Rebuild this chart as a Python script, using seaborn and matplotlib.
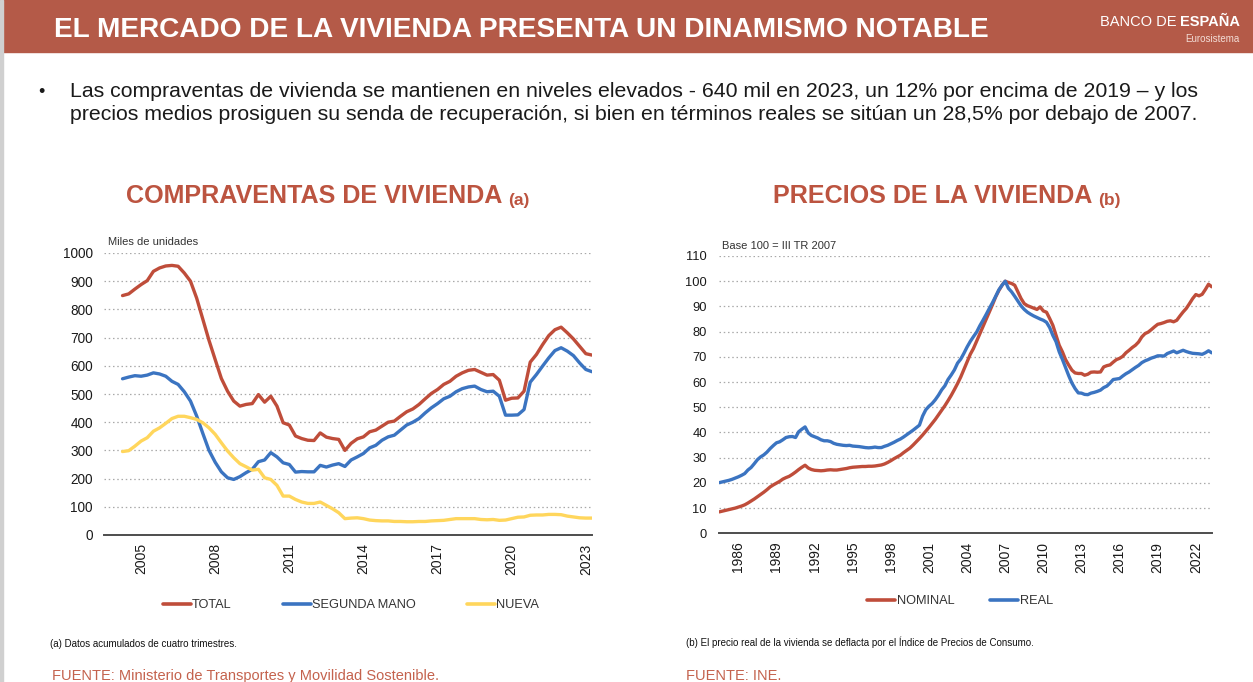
import numpy as np
import pandas as pd
import seaborn as sns
import matplotlib.pyplot as plt
from matplotlib.patches import Rectangle
from matplotlib.lines import Line2D

# ---------------- data ----------------
# Compraventas de vivienda (miles), acumulado 4 trimestres, 2004T4 - 2023T4
sales_start = '2004Q4'
sales_total = [849,
               855, 872, 888, 902,
               935, 947, 954, 956,
               953, 929, 900, 840,
               765, 690, 622, 555,
               510, 475, 457, 463,
               466, 498, 471, 492,
               457, 398, 390, 351,
               342, 336, 335, 362,
               347, 342, 339, 300,
               325, 341, 348, 366,
               372, 386, 400, 404,
               421, 437, 447, 463,
               483, 502, 516, 534,
               545, 563, 575, 584,
               587, 577, 567, 569,
               549, 478, 485, 486,
               510, 613, 640, 675,
               707, 728, 737, 717,
               695, 669, 643, 638]
sales_second_hand = [554,
                     560, 565, 563, 567,
                     575, 571, 563, 545,
                     534, 508, 475, 422,
                     360, 300, 258, 224,
                     203, 197, 207, 221,
                     233, 260, 266, 292,
                     277, 256, 250, 223,
                     225, 224, 224, 247,
                     241, 248, 253, 243,
                     266, 277, 289, 309,
                     318, 336, 348, 354,
                     372, 390, 400, 413,
                     433, 451, 466, 483,
                     492, 508, 519, 525,
                     528, 516, 508, 510,
                     492, 425, 425, 426,
                     445, 542, 569, 599,
                     628, 654, 664, 652,
                     636, 610, 587, 579]
sales_new = [296,
             299, 315, 333, 345,
             368, 380, 396, 413,
             421, 421, 416, 410,
             398, 380, 357, 327,
             298, 274, 253, 242,
             230, 233, 203, 197,
             176, 138, 138, 126,
             117, 112, 112, 117,
             105, 93, 79, 58,
             60, 61, 58, 53,
             51, 50, 50, 48,
             48, 47, 47, 48,
             48, 50, 51, 52,
             55, 58, 58, 58,
             58, 55, 54, 55,
             52, 53, 58, 63,
             64, 70, 71, 71,
             73, 73, 72, 67,
             64, 61, 60, 60]
sales_labels = ['TOTAL', 'SEGUNDA MANO', 'NUEVA']
sales_tick_years = [2005, 2008, 2011, 2014, 2017, 2020, 2023]

# Precios de la vivienda, base 100 = III TR 2007, 1985T1 - 2023T4
price_start = '1985Q1'
price_nominal = [8.5, 8.8, 9.1, 9.4,
                 9.7, 10.0, 10.4, 10.8,
                 11.3, 12.0, 12.8, 13.6,
                 14.5, 15.4, 16.3, 17.3,
                 18.4, 19.2, 19.9, 20.6,
                 21.5, 22.1, 22.6, 23.4,
                 24.3, 25.3, 26.2, 27.0,
                 25.9, 25.3, 25.0, 24.9,
                 24.8, 24.9, 25.1, 25.2,
                 25.1, 25.1, 25.3, 25.5,
                 25.7, 26.0, 26.2, 26.3,
                 26.4, 26.5, 26.5, 26.6,
                 26.6, 26.7, 26.9, 27.1,
                 27.5, 28.1, 28.8, 29.6,
                 30.3, 31.0, 32.0, 32.9,
                 33.8, 35.0, 36.3, 37.6,
                 39.0, 40.5, 42.0, 43.6,
                 45.2, 47.0, 48.8, 50.6,
                 52.6, 54.7, 57.0, 59.4,
                 62.0, 65.0, 68.0, 71.0,
                 73.3, 76.2, 79.2, 81.9,
                 84.8, 87.8, 90.7, 93.8,
                 96.3, 98.4, 100.0, 99.5,
                 99.1, 98.4, 95.8, 93.1,
                 91.1, 90.3, 89.8, 89.3,
                 88.8, 89.8, 88.2, 87.7,
                 85.2, 82.5, 78.6, 74.6,
                 72.0, 68.9, 66.7, 64.7,
                 63.6, 63.4, 63.4, 62.7,
                 63.1, 63.9, 64.0, 63.9,
                 64.0, 66.0, 66.5, 66.8,
                 67.9, 68.9, 69.4, 70.2,
                 71.6, 72.6, 73.7, 74.6,
                 75.9, 77.9, 79.2, 79.8,
                 80.8, 81.9, 82.9, 83.2,
                 83.6, 84.1, 84.3, 83.9,
                 84.5, 86.2, 87.8, 89.2,
                 91.1, 93.1, 94.7, 94.2,
                 94.8, 96.7, 98.8, 97.8]
price_real = [20.1, 20.4, 20.7, 21.0,
              21.4, 21.9, 22.4, 23.0,
              23.7, 25.1, 26.1, 27.6,
              29.2, 30.3, 31.1, 32.2,
              33.6, 34.8, 35.9, 36.3,
              37.1, 38.0, 38.3, 38.4,
              38.0, 40.3, 41.3, 42.2,
              39.8, 38.8, 38.3, 37.8,
              37.1, 36.7, 36.7, 36.4,
              35.7, 35.3, 35.1, 34.9,
              34.8, 34.9, 34.6, 34.5,
              34.4, 34.2, 34.0, 33.9,
              34.0, 34.2, 34.0, 34.0,
              34.5, 34.9, 35.5, 36.1,
              36.8, 37.4, 38.2, 39.1,
              40.0, 40.9, 41.9, 42.9,
              46.5, 49.0, 50.4, 51.5,
              53.0, 54.8, 56.9, 58.5,
              61.0, 62.8, 64.8, 67.5,
              69.1, 71.4, 73.9, 76.1,
              78.0, 79.8, 82.3, 84.5,
              86.8, 89.2, 91.5, 94.0,
              96.6, 98.4, 100.0, 97.2,
              95.8, 94.0, 92.1, 90.2,
              88.8, 87.7, 86.9, 86.2,
              85.6, 85.0, 84.5, 83.7,
              81.6, 78.5, 76.0, 72.0,
              69.0, 65.8, 62.5, 59.6,
              57.4, 55.7, 55.6, 55.1,
              55.0, 55.6, 55.9, 56.3,
              56.8, 57.8, 58.4, 59.6,
              61.0, 61.2, 61.4, 62.4,
              63.3, 64.0, 64.9, 65.8,
              66.6, 67.7, 68.4, 68.9,
              69.5, 69.9, 70.4, 70.4,
              70.3, 71.3, 71.8, 72.3,
              71.6, 72.1, 72.6, 72.1,
              71.7, 71.4, 71.3, 71.2,
              71.0, 71.6, 72.4, 71.6]
price_labels = ['NOMINAL', 'REAL']
price_tick_years = [1986, 1989, 1992, 1995, 1998, 2001, 2004, 2007,
                    2010, 2013, 2016, 2019, 2022]

# ---------------- style ----------------
RED = '#BF4D3A'
BLUE = '#3B74C1'
YELLOW = '#FFD65C'
BANNER = '#B45A48'
TITLE_RED = '#BC5440'
W, H = 1253, 682

sns.set_style('white')
plt.rcParams['font.family'] = ['Liberation Sans', 'DejaVu Sans']


def quarter_axis(start, n):
    p = pd.period_range(start, periods=n, freq='Q')
    return np.asarray(p.year + (p.quarter - 1) / 4.0)


def fx(x):
    return x / W


def fy(y):
    return 1 - y / H


fig = plt.figure(figsize=(W / 100, H / 100), dpi=100)

# header banner + page edge
fig.patches.append(Rectangle((0, fy(52)), 1, 52 / H, transform=fig.transFigure,
                             color=BANNER, zorder=0))
fig.patches.append(Rectangle((0, 0), 2.5 / W, 1, transform=fig.transFigure,
                             color='#d0d0d0', zorder=1))
fig.text(fx(54), fy(37), 'EL MERCADO DE LA VIVIENDA PRESENTA UN DINAMISMO NOTABLE',
         color='white', fontsize=20.2, fontweight='bold', va='baseline')
fig.text(fx(1240), fy(26), 'ESPAÑA', color='white', fontsize=10.5,
         fontweight='bold', ha='right', va='baseline')
fig.text(fx(1177), fy(26), 'BANCO DE', color='white', fontsize=10.5,
         ha='right', va='baseline')
fig.text(fx(1240), fy(42), 'Eurosistema', color='#f3ddd6', fontsize=7,
         ha='right', va='baseline')

# bullet text
fig.text(fx(38), fy(97), '•', fontsize=13, color='#1a1a1a', va='baseline')
fig.text(fx(70), fy(97), 'Las compraventas de vivienda se mantienen en niveles elevados - '
         '640 mil en 2023, un 12% por encima de 2019 – y los',
         fontsize=15.3, color='#1a1a1a', va='baseline')
fig.text(fx(70), fy(120), 'precios medios prosiguen su senda de recuperación, si bien en '
         'términos reales se sitúan un 28,5% por debajo de 2007.',
         fontsize=15.3, color='#1a1a1a', va='baseline')

# axes
ax1 = fig.add_axes([fx(104), fy(535), (592 - 104) / W, (535 - 253) / H])
ax2 = fig.add_axes([fx(719.3), fy(533.3), (1211.7 - 719.3) / W, (533.3 - 256) / H])

x_sales = quarter_axis(sales_start, len(sales_total))
x_price = quarter_axis(price_start, len(price_nominal))

for vals, col, lab in zip([sales_total, sales_second_hand, sales_new],
                          [RED, BLUE, YELLOW], sales_labels):
    sns.lineplot(x=x_sales, y=vals, color=col, lw=2.4, ax=ax1, label=lab, legend=False)

for vals, col, lab in zip([price_nominal, price_real], [RED, BLUE], price_labels):
    sns.lineplot(x=x_price, y=vals, color=col, lw=2.4, ax=ax2, label=lab, legend=False)


def style_axes(ax, ymax, ystep, ypad, ysize):
    ax.set_ylim(0, ymax)
    ax.set_yticks(np.arange(0, ymax + 1, ystep))
    ax.yaxis.grid(True, ls=(0, (1.2, 2.2)), color='#a9a9a9', lw=0.9)
    ax.xaxis.grid(False)
    for s in ['left', 'right', 'top']:
        ax.spines[s].set_visible(False)
    ax.spines['bottom'].set_color('#4d4d4d')
    ax.spines['bottom'].set_linewidth(1.4)
    ax.xaxis.remove_overlapping_locs = False
    ax.tick_params(axis='y', length=0, labelsize=ysize, pad=ypad, labelcolor='#1a1a1a')
    ax.tick_params(axis='x', which='major', direction='in', length=4, width=1.1,
                   color='#4d4d4d', labelbottom=False)
    ax.tick_params(axis='x', which='minor', length=0, labelsize=10, pad=6,
                   labelcolor='#1a1a1a', labelrotation=90)
    ax.set_xlabel('')
    ax.set_ylabel('')


style_axes(ax1, 1000, 100, 8, 9.8)
ax1.set_xlim(2004, 2023.75)
ax1.set_xticks(np.arange(2004, 2024))
ax1.set_xticks([y + 0.5 for y in sales_tick_years], minor=True)
ax1.set_xticklabels([str(y) for y in sales_tick_years], minor=True)

style_axes(ax2, 110, 10, 9, 9.3)
ax2.set_xlim(1985, 2023.75)
ax2.set_xticks(np.arange(1985, 2023.6, 1.5))
ax2.set_xticks([y + 0.5 for y in price_tick_years], minor=True)
ax2.set_xticklabels([str(y) for y in price_tick_years], minor=True)

# chart titles
t1 = fig.text(fx(126), fy(203), 'COMPRAVENTAS DE VIVIENDA', color=TITLE_RED,
              fontsize=18.1, fontweight='bold', va='baseline')
ax1.annotate('(a)', xy=(1, 0), xycoords=t1, xytext=(4, 0), textcoords='offset points',
             color=TITLE_RED, fontsize=12.5, fontweight='bold', va='bottom',
             annotation_clip=False)
t2 = fig.text(fx(773), fy(203), 'PRECIOS DE LA VIVIENDA', color=TITLE_RED,
              fontsize=18.1, fontweight='bold', va='baseline')
ax2.annotate('(b)', xy=(1, 0), xycoords=t2, xytext=(4, 0), textcoords='offset points',
             color=TITLE_RED, fontsize=12.5, fontweight='bold', va='bottom',
             annotation_clip=False)

fig.text(fx(108), fy(245), 'Miles de unidades', fontsize=8, color='#333333', va='baseline')
fig.text(fx(722), fy(249), 'Base 100 = III TR 2007', fontsize=8, color='#333333',
         va='baseline')

# legends
h1 = [Line2D([], [], color=c, lw=2.6) for c in [RED, BLUE, YELLOW]]
fig.legend(h1, sales_labels, loc='center', bbox_to_anchor=(fx(351), fy(605)), ncol=3,
           frameon=False, fontsize=9.2, handlelength=2.2, handletextpad=0.1,
           columnspacing=4.0, labelcolor='#333333')
h2 = [Line2D([], [], color=c, lw=2.6) for c in [RED, BLUE]]
fig.legend(h2, price_labels, loc='center', bbox_to_anchor=(fx(960), fy(601)), ncol=2,
           frameon=False, fontsize=9.2, handlelength=2.2, handletextpad=0.1,
           columnspacing=2.8, labelcolor='#333333')

# notes and sources
fig.text(fx(50), fy(647), '(a) Datos acumulados de cuatro trimestres.', fontsize=7,
         color='#111111', va='baseline')
fig.text(fx(686), fy(646), '(b) El precio real de la vivienda se deflacta por el Índice '
         'de Precios de Consumo.', fontsize=7, color='#111111', va='baseline')
fig.text(fx(52), fy(680), 'FUENTE: Ministerio de Transportes y Movilidad Sostenible.',
         fontsize=10.5, color='#C4624D', va='baseline')
fig.text(fx(686), fy(680), 'FUENTE: INE.', fontsize=10.5, color='#C4624D', va='baseline')

fig.savefig('out.png', dpi=100)
